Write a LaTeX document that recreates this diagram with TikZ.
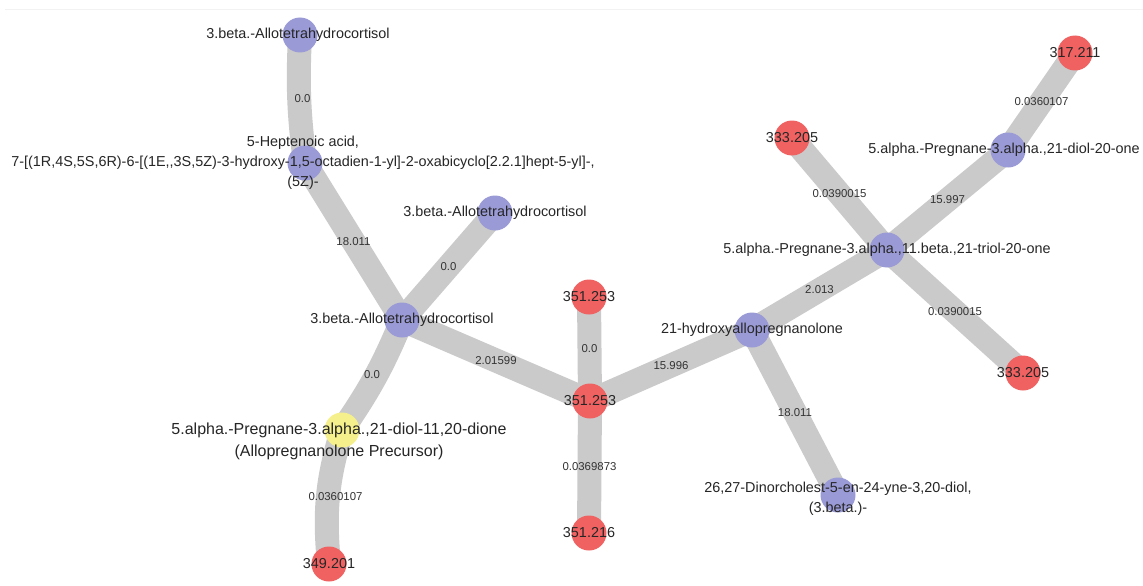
\documentclass[tikz,border=0pt]{standalone}
\usepackage{fontspec}
\setmainfont{Liberation Sans}
\usetikzlibrary{backgrounds,calc}
\definecolor{molblue}{RGB}{154,154,214}
\definecolor{massred}{RGB}{240,98,98}
\definecolor{seedyellow}{RGB}{245,240,140}
\definecolor{linkgray}{RGB}{202,202,202}

\begin{document}
\begin{tikzpicture}[
        x=1pt, y=-1pt,
        mol/.style={circle, minimum size=35pt, inner sep=0pt, fill=molblue},
        mass/.style={mol, fill=massred},
        seednode/.style={mol, fill=seedyellow},
        lbl/.style={font=\fontsize{14.4}{20}\selectfont, align=center, text=black!85},
        biglbl/.style={font=\fontsize{16}{22}\selectfont, align=center, text=black!85},
        link/.style={draw=linkgray, line width=24pt},
        wt/.style={font=\fontsize{11.4}{13}\selectfont, text=black!80}
    ]
        \useasboundingbox (0,0) rectangle (1143,586);
        \draw[black!5] (5,9) -- (1143,9);

        % compounds and masses
        \node[mol] (allotop) at (300,35) {};
        \node[mol] (hept) at (305,163) {};
        \node[mol] (allomid) at (495,213) {};
        \node[mol] (allo) at (402,320) {};
        \node[seednode] (seed) at (342,430) {};
        \node[mass] (m349) at (329,564) {};
        \node[mass] (m351top) at (589,297) {};
        \node[mass] (m351) at (590,401) {};
        \node[mass] (m351low) at (589,533) {};
        \node[mol] (hydroxy) at (752,330) {};
        \node[mol] (dinor) at (838,495) {};
        \node[mol] (triol) at (887,250) {};
        \node[mass] (m333top) at (792,138) {};
        \node[mass] (m333low) at (1023,373) {};
        \node[mol] (diol) at (1008,150) {};
        \node[mass] (m317) at (1075,53) {};

        % connectors
        \begin{scope}[on background layer]
            \fill[white] (0,0) rectangle (1143,586);
            \draw[link] (allotop.center) to[bend right=5] (hept.center);
            \draw[link] (hept.center) -- (allo.center);
            \draw[link] (allomid.center) -- (allo.center);
            \draw[link] (allo.center) to[bend left=6] (seed.center);
            \draw[link] (seed.center) to[bend right=11] (m349.center);
            \draw[link] (allo.center) -- (m351.center);
            \draw[link] (m351top.center) -- (m351.center);
            \draw[link] (m351.center) -- (m351low.center);
            \draw[link] (m351.center) -- (hydroxy.center);
            \draw[link] (hydroxy.center) -- (dinor.center);
            \draw[link] (hydroxy.center) -- (triol.center);
            \draw[link] (triol.center) -- (m333top.center);
            \draw[link] (triol.center) -- (m333low.center);
            \draw[link] (triol.center) -- (diol.center);
            \draw[link] (diol.center) -- (m317.center);
        \end{scope}

        % mass differences
        \node[wt] (wA) at ($(allotop)!0.5!(hept)$) {0.0};
        \node[wt] (wB) at ($(hept)!0.5!(allo)$) {18.011};
        \node[wt] (wC) at ($(allomid)!0.5!(allo)$) {0.0};
        \node[wt] (wD) at ($(allo)!0.5!(seed)$) {0.0};
        \node[wt] (wE) at ($(seed)!0.5!(m349)$) {0.0360107};
        \node[wt] (wF) at ($(allo)!0.5!(m351)$) {2.01599};
        \node[wt] (wG) at ($(m351top)!0.5!(m351)$) {0.0};
        \node[wt] (wH) at ($(m351)!0.5!(m351low)$) {0.0369873};
        \node[wt] (wI) at ($(m351)!0.5!(hydroxy)$) {15.996};
        \node[wt] (wJ) at ($(hydroxy)!0.5!(dinor)$) {18.011};
        \node[wt] (wK) at ($(hydroxy)!0.5!(triol)$) {2.013};
        \node[wt] (wL) at ($(triol)!0.5!(m333top)$) {0.0390015};
        \node[wt] (wM) at ($(triol)!0.5!(m333low)$) {0.0390015};
        \node[wt] (wN) at ($(triol)!0.5!(diol)$) {15.997};
        \node[wt] (wO) at ($(diol)!0.5!(m317)$) {0.0360107};

        % names
        \node[lbl] (tallotop) at ([xshift=-2pt]allotop) {3.beta.-Allotetrahydrocortisol};
        \node[lbl] (thept) at ([xshift=-2pt]hept) {5-Heptenoic acid,\\7-[(1R,4S,5S,6R)-6-[(1E,{},3S,5Z)-3-hydroxy-1,5-octadien-1-yl]-2-oxabicyclo[2.2.1]hept-5-yl]-,\\(5Z)-};
        \node[lbl] (tallomid) at (allomid) {3.beta.-Allotetrahydrocortisol};
        \node[lbl] (tallo) at (allo) {3.beta.-Allotetrahydrocortisol};
        \node[biglbl] (tseed) at ([xshift=-3pt, yshift=-11pt]seed) {5.alpha.-Pregnane-3.alpha.,21-diol-11,20-dione\\(Allopregnanolone Precursor)};
        \node[lbl] (tm349) at (m349) {349.201};
        \node[lbl] (tm351top) at (m351top) {351.253};
        \node[lbl] (tm351) at (m351) {351.253};
        \node[lbl] (tm351low) at (m351low) {351.216};
        \node[lbl] (thydroxy) at (hydroxy) {21-hydroxyallopregnanolone};
        \node[lbl] (tdinor) at ([yshift=-4pt]dinor) {26,27-Dinorcholest-5-en-24-yne-3,20-diol,\\(3.beta.)-};
        \node[lbl] (ttriol) at (triol) {5.alpha.-Pregnane-3.alpha.,11.beta.,21-triol-20-one};
        \node[lbl] (tm333top) at (m333top) {333.205};
        \node[lbl] (tm333low) at (m333low) {333.205};
        \node[lbl] (tdiol) at ([xshift=-4pt]diol) {5.alpha.-Pregnane-3.alpha.,21-diol-20-one};
        \node[lbl] (tm317) at (m317) {317.211};
    \end{tikzpicture}
\end{document}
